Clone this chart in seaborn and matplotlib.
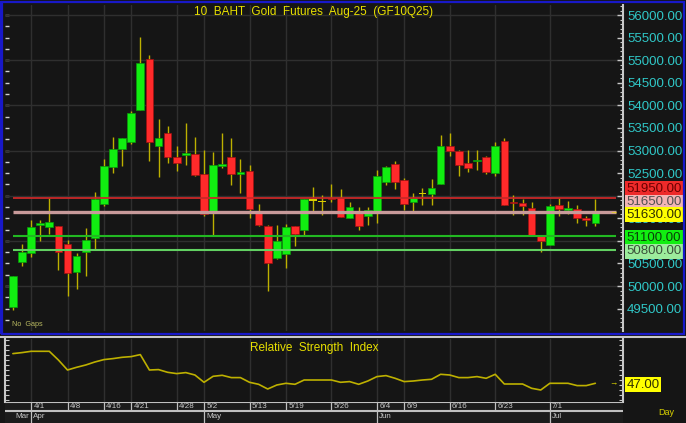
import numpy as np
import pandas as pd
import seaborn as sns
import matplotlib
matplotlib.use('Agg')
from matplotlib import pyplot as plt
from matplotlib.patches import Rectangle
from matplotlib.ticker import MultipleLocator, FuncFormatter, NullFormatter

BG = '#151515'
GRID = '#2f2f2f'
sns.set_style('dark', {'axes.facecolor': BG, 'figure.facecolor': BG,
                       'grid.color': GRID, 'axes.edgecolor': '#c8c8c8'})
plt.rcParams['font.family'] = ['Liberation Sans', 'DejaVu Sans']

# ---- data ----
dates = ['3/28', '3/31',
         '4/1', '4/2', '4/3', '4/4', '4/8', '4/9', '4/10', '4/11', '4/16', '4/17', '4/18',
         '4/21', '4/22', '4/23', '4/24', '4/25', '4/28', '4/29', '4/30',
         '5/2', '5/6', '5/7', '5/8', '5/9', '5/13', '5/14', '5/15', '5/16',
         '5/19', '5/20', '5/21', '5/22', '5/23', '5/26', '5/27', '5/28', '5/29', '5/30',
         '6/4', '6/5', '6/6', '6/9', '6/10', '6/11', '6/12', '6/13',
         '6/16', '6/17', '6/18', '6/19', '6/20', '6/23', '6/24', '6/25', '6/26', '6/27', '6/30',
         '7/1', '7/2', '7/3', '7/4', '7/7', '7/8']

opens = [49530, 50530, 50730, 51360, 51300, 51330, 50920, 50310, 50760, 51060,
         51820, 52630, 53030, 53190, 53890, 55020, 53110, 53380, 52850, 52900,
         52930, 52470, 51620, 52650, 52850, 52490, 52550, 51670, 51330, 50620,
         50700, 51320, 51240, 51900, 51870, 51940, 51940, 51500, 51670, 51540,
         51650, 52310, 52700, 52350, 51870, 52050, 52040, 52270, 53090, 52990,
         52730, 52760, 52850, 52500, 53210, 51850, 51840, 51730, 51100, 50900,
         51790, 51690, 51700, 51480, 51390]
highs = [50230, 50930, 51470, 51470, 51940, 51340, 51020, 50740, 51280, 52090,
         52820, 53310, 53280, 53870, 55520, 55110, 53690, 53550, 53090, 53610,
         53290, 53010, 52970, 53390, 53270, 52820, 52670, 51820, 51360, 51360,
         51380, 51330, 51930, 52200, 52020, 52250, 52150, 51850, 51760, 51760,
         52560, 52650, 52760, 52390, 52060, 52180, 52370, 53350, 53390, 53020,
         53020, 53020, 52890, 53190, 53270, 52020, 51920, 51850, 51130, 51820,
         51940, 51880, 51790, 51540, 51930]
lows = [49480, 50440, 50650, 51000, 51150, 50350, 49790, 49930, 50220, 50810,
        51780, 52510, 52650, 53150, 53890, 52760, 52410, 52730, 52540, 52670,
        52440, 51540, 51110, 52620, 52240, 52070, 51500, 51320, 49900, 50590,
        50400, 50880, 51110, 51610, 51580, 51850, 51520, 51500, 51240, 51360,
        51390, 52240, 52150, 51690, 51650, 51790, 51790, 52270, 52890, 52430,
        52520, 52560, 52480, 52440, 51800, 51580, 51580, 51120, 50760, 50900,
        51560, 51590, 51390, 51320, 51320]
closes = [50220, 50760, 51310, 51380, 51420, 50750, 50280, 50660, 51020, 51930,
          52650, 53030, 53270, 53840, 54940, 53190, 53270, 52850, 52720, 52930,
          52460, 51590, 52670, 52700, 52470, 52510, 51700, 51360, 50500, 51000,
          51310, 51160, 51930, 51900, 51870, 51920, 51520, 51760, 51320, 51690,
          52430, 52630, 52300, 51820, 51940, 52050, 52170, 53090, 52980, 52670,
          52620, 52780, 52530, 53100, 51800, 51830, 51780, 51120, 50990, 51780,
          51700, 51700, 51500, 51460, 51630]

rsi = [76.7, 77.7, 79.0, 79.0, 79.0, 70.3, 60.3, 63.0, 65.3, 68.3,
       70.7, 71.7, 73.0, 73.7, 75.7, 60.3, 60.7, 58.0, 56.7, 57.7,
       55.3, 48.0, 54.0, 55.0, 52.7, 52.7, 48.0, 46.0, 41.3, 45.3,
       47.0, 46.0, 50.3, 50.3, 50.3, 50.3, 48.0, 48.7, 46.0, 49.3,
       53.7, 54.7, 52.0, 48.7, 49.3, 50.3, 51.0, 56.0, 55.3, 52.7,
       52.7, 53.7, 52.0, 56.0, 46.3, 46.3, 46.3, 42.0, 40.3, 47.0,
       47.0, 47.0, 44.7, 44.7, 47.0]

week_labels = ['4/1', '4/8', '4/16', '4/21', '4/28', '5/2', '5/13', '5/19',
               '5/26', '6/4', '6/9', '6/16', '6/23', '7/1']
month_labels = ['Mar', 'Apr', 'May', 'Jun', 'Jul']
month_starts = ['3/28', '4/1', '5/2', '6/4', '7/1']

levels = [51950, 51650, 51100, 50800]
level_colors = ['#c82828', '#c89a9a', '#22b822', '#62d062']
level_widths = [1.3, 2.4, 1.5, 1.5]
label_values = [51950, 51650, 51630, 51100, 50800]
label_bg = ['#ee2a2a', '#f2b4b4', '#ffff00', '#11ee11', '#9cec9c']
label_fg = ['#6a0000', '#505050', '#303000', '#0a400a', '#3a503a']
label_dy = [6.8, 6.5, -1.7, -1.0, -1.0]

df = pd.DataFrame({'date': dates, 'open': opens, 'high': highs,
                   'low': lows, 'close': closes, 'rsi': rsi})
df['x'] = np.arange(len(df))
week_pos = [dates.index(d) for d in week_labels]
month_pos = [dates.index(d) for d in month_starts]

W, H = 686, 423
def box(l, t, r, b):
    return [l / W, 1 - b / H, (r - l) / W, (b - t) / H]

fig = plt.figure(figsize=(W / 100, H / 100), dpi=100, facecolor=BG)
ax = fig.add_axes(box(5, 5, 623, 331))
ax2 = fig.add_axes(box(5, 339, 623, 402))
ax3 = fig.add_axes(box(5, 402, 623, 423))
XL = (-0.868, 67.04)

# ---- price panel ----
ax.set_facecolor(BG)
ax.set_xlim(*XL)
ax.set_ylim(49005, 56222)
for v in range(50000, 56001, 1000):
    ax.axhline(v, color=GRID, lw=1, zorder=0.5)
for p in week_pos:
    ax.axvline(p, color=GRID, lw=1, zorder=0.5)

up = df['close'] > df['open']
dn = df['close'] < df['open']
eq = df['close'] == df['open']
ax.vlines(df['x'], df['low'], df['high'], color='#bdb000', lw=1.0, zorder=2)
body_lo = df[['open', 'close']].min(axis=1)
body_h = (df['close'] - df['open']).abs().clip(lower=40)
ax.bar(df['x'][up], body_h[up], bottom=body_lo[up], width=0.84,
       color='#11ee11', edgecolor='#0a9a0a', lw=0.5, zorder=3)
ax.bar(df['x'][dn], body_h[dn], bottom=body_lo[dn], width=0.84,
       color='#ff2a2a', edgecolor='#a01010', lw=0.5, zorder=3)
ax.bar(df['x'][eq], body_h[eq], bottom=body_lo[eq] - 20, width=0.84,
       color='#d8cc00', lw=0, zorder=3)

ax.hlines(levels, df['x'].iloc[0], df['x'].iloc[-1] + 2.3,
          colors=level_colors, lw=level_widths, zorder=4)

# price labels that sit fully under a level box are not shown
def price_fmt(v, pos):
    if v in (52000, 51000):
        return ''
    return f'{v:.2f}'

ax.yaxis.tick_right()
ax.yaxis.set_major_locator(MultipleLocator(500))
ax.yaxis.set_minor_locator(MultipleLocator(100))
ax.yaxis.set_major_formatter(FuncFormatter(price_fmt))
ax.tick_params(axis='y', which='major', direction='in', length=4, width=1,
               color='#c8c8c8', labelcolor='#30c8c8', labelsize=9.5, pad=3)
ax.tick_params(axis='y', which='minor', direction='in', length=2, width=0.8,
               color='#c8c8c8')
ax.tick_params(axis='x', bottom=False, labelbottom=False)
for s in ['left', 'top', 'bottom']:
    ax.spines[s].set_visible(False)
ax.spines['right'].set_color('#c8c8c8')
ax.spines['right'].set_linewidth(1.5)
sec = ax.secondary_yaxis('left')
sec.yaxis.set_major_locator(MultipleLocator(250))
sec.yaxis.set_major_formatter(NullFormatter())
sec.tick_params(direction='in', length=3, width=1, color='#d0d0d0')
sec.spines['left'].set_visible(False)

ax.text(0.5, 0.978, '10  BAHT  Gold  Futures  Aug-25  (GF10Q25)',
        transform=ax.transAxes, ha='center', va='center',
        color='#e8e000', fontsize=8.5, zorder=6)
ax.text(0.011, 0.008, 'No  Gaps', transform=ax.transAxes, ha='left',
        va='bottom', color='#b8b860', fontsize=5.2, zorder=6)

for v, bg, fg, dy in zip(label_values, label_bg, label_fg, label_dy):
    ax.annotate(f'{v:.2f}', xy=(1, v), xycoords=('axes fraction', 'data'),
                xytext=(2.6, dy), textcoords='offset points', ha='left',
                va='center', fontsize=9.5, color=fg, annotation_clip=False,
                bbox=dict(boxstyle='square,pad=0.12', fc=bg, ec='none'),
                zorder=8)
ax.annotate('→', xy=(df['x'].iloc[-1] + 2.0, df['close'].iloc[-1]),
            ha='center', va='center', color='#e8e000', fontsize=6, zorder=7)

# ---- RSI panel ----
ax2.set_facecolor(BG)
sns.lineplot(data=df, x='x', y='rsi', ax=ax2, color='#bdb000', lw=1.2)
ax2.set_xlim(*XL)
ax2.set_ylim(28.3, 91.3)
for p in week_pos:
    ax2.axvline(p, color=GRID, lw=1, zorder=0.5)
ax2.set_xlabel('')
ax2.set_ylabel('')
ax2.yaxis.set_major_locator(MultipleLocator(5))
ax2.tick_params(axis='y', which='major', direction='in', length=3, width=0.8,
                color='#c8c8c8', left=True, right=True, labelleft=False,
                labelright=False)
ax2.tick_params(axis='x', bottom=False, labelbottom=False)
ax2.spines['top'].set_visible(False)
ax2.spines['bottom'].set_visible(False)
for s in ['left', 'right']:
    ax2.spines[s].set_color('#c8c8c8')
    ax2.spines[s].set_linewidth(1.5)
ax2.text(0.5, 0.86, 'Relative  Strength  Index', transform=ax2.transAxes,
         ha='center', va='center', color='#e8e000', fontsize=8.5)
ax2.annotate(f'{rsi[-1]:.2f}', xy=(1, rsi[-1]), xycoords=('axes fraction', 'data'),
             xytext=(2.6, -1), textcoords='offset points', ha='left', va='center',
             fontsize=9.5, color='#303000', annotation_clip=False,
             bbox=dict(boxstyle='square,pad=0.12', fc='#ffff00', ec='none'))
ax2.annotate('→', xy=(df['x'].iloc[-1] + 2.0, rsi[-1]),
             ha='center', va='center', color='#e8e000', fontsize=6)

# ---- date strip ----
ax3.set_facecolor('#1b1b1b')
ax3.set_xlim(*XL)
ax3.set_ylim(0, 21)
ax3.axis('off')
ax3.add_patch(Rectangle((0, 0), 1, 1, transform=ax3.transAxes,
                        fc='#1b1b1b', ec='none', zorder=0))
ax3.axhline(21, color='#c0c0c0', lw=1.5)
ax3.axhline(12.5, color='#c0c0c0', lw=1.5)
ax3.vlines(week_pos, 12.5, 21, color='#c0c0c0', lw=0.9)
ax3.vlines(month_pos[1:], 0, 12.5, color='#c0c0c0', lw=0.9)
for lab, p in zip(week_labels, week_pos):
    ax3.text(p + 0.25, 16.3, lab, ha='left', va='center', color='#c8c8c8',
             fontsize=5.8)
for lab, p in zip(month_labels, month_pos):
    ax3.text(p + 0.25, 6.3, lab, ha='left', va='center', color='#c8c8c8',
             fontsize=5.8)

# ---- frame ----
fig.patches.append(Rectangle((1.5 / W, 1 - 334 / H), 682 / W, 332 / H,
                             transform=fig.transFigure, fill=False,
                             ec='#1818c8', lw=1.6))
fig.patches.append(Rectangle((0, 1 - 334 / H), 3.5 / W, 333 / H,
                             transform=fig.transFigure, fc='#1818c8', ec='none'))
fig.lines.append(plt.Line2D([0, 1], [1 - 337 / H, 1 - 337 / H],
                            transform=fig.transFigure, color='#c8c8c8', lw=1.5))
fig.text(666 / W, 1 - 412 / H, 'Day', ha='center', va='center',
         color='#d8d000', fontsize=6.5)

fig.savefig('out.png', dpi=100, facecolor=BG)
